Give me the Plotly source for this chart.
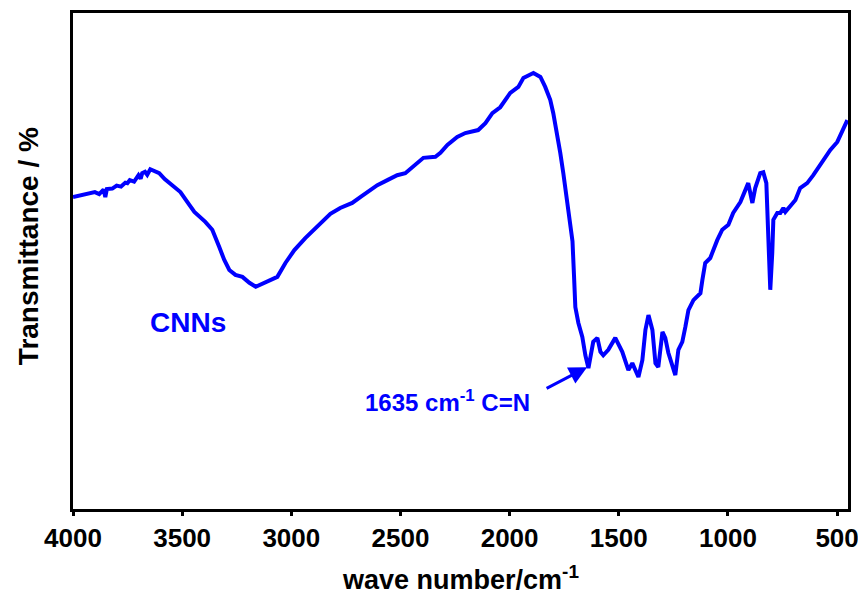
import plotly.graph_objects as go

wavenumber = [4000, 3950, 3920, 3900, 3880, 3860, 3852, 3845, 3820, 3800, 3780, 3760, 3751, 3740,
              3720, 3700, 3690, 3683, 3670, 3660, 3646, 3630, 3605, 3580, 3559, 3508, 3467, 3444,
              3394, 3362, 3330, 3307, 3284, 3256, 3224, 3192, 3163, 3122, 3087, 3064, 3027, 2986,
              2936, 2858, 2821, 2776, 2721, 2684, 2652, 2606, 2560, 2515, 2478, 2441, 2395, 2340,
              2317, 2285, 2240, 2203, 2144, 2111, 2079, 2043, 1997, 1960, 1937, 1891, 1859, 1837,
              1814, 1800, 1782, 1768, 1754, 1745, 1731, 1720, 1712, 1705, 1699, 1685, 1667, 1653,
              1639, 1617, 1598, 1584, 1571, 1548, 1516, 1484, 1470, 1456, 1438, 1424, 1410, 1392,
              1378, 1364, 1346, 1332, 1319, 1300, 1287, 1273, 1255, 1241, 1227, 1209, 1195, 1181,
              1158, 1126, 1117, 1104, 1081, 1067, 1049, 1026, 998, 976, 943, 907, 888, 875, 852,
              838, 824, 815, 806, 797, 792, 774, 760, 746, 737, 714, 691, 669, 637, 609, 577, 531,
              499, 453]
transmittance = [62.9, 63.3, 63.6, 63.9, 63.5, 64.4, 62.9, 64.5, 64.6, 65.2, 65.0, 65.8, 65.7, 66.3,
                 66.0, 67.3, 66.6, 67.7, 68.0, 67.4, 68.5, 68.2, 67.7, 66.5, 65.7, 63.9, 61.3, 59.9,
                 57.9, 56.3, 52.8, 50.2, 48.2, 47.2, 46.8, 45.6, 44.8, 45.6, 46.2, 46.8, 49.6, 52.2,
                 54.6, 57.9, 59.5, 60.7, 61.7, 62.9, 63.9, 65.3, 66.3, 67.3, 67.7, 69.2, 70.8, 71.0,
                 71.8, 73.4, 75.0, 75.8, 76.4, 77.8, 79.8, 81.0, 83.9, 85.1, 86.9, 87.9, 87.1, 85.1,
                 82.5, 79.8, 75.8, 71.8, 67.7, 64.9, 60.3, 57.5, 54.0, 47.0, 40.7, 37.5, 34.7, 31.0,
                 28.4, 33.7, 34.5, 31.7, 31.0, 32.1, 34.5, 31.7, 29.6, 28.0, 29.4, 28.0, 26.6, 30.0,
                 36.1, 39.1, 36.1, 29.4, 28.6, 35.7, 34.5, 31.5, 28.6, 27.0, 32.1, 33.7, 36.7, 40.1,
                 42.1, 43.5, 46.2, 49.6, 50.6, 52.2, 54.2, 56.3, 57.3, 59.7, 61.9, 65.7, 61.7, 64.7, 67.7,
                 67.9, 65.7, 54.8, 44.2, 51.6, 58.3, 59.7, 59.7, 60.7, 59.9, 61.1, 62.3, 64.7, 65.7, 67.3, 69.4, 72.4,
                 74.0, 78.4]

x_ticks = [4000, 3500, 3000, 2500, 2000, 1500, 1000, 500]
x_tick_labels = ["4000", "3500", "3000", "2500", "2000", "1500", "1000", "500"]

FONT = "Liberation Sans, Arial, sans-serif"
BLUE = "#0000FF"

fig = go.Figure()
fig.add_trace(go.Scatter(x=wavenumber, y=transmittance, mode="lines",
                         line=dict(color=BLUE, width=4), showlegend=False,
                         hoverinfo="x+y"))

fig.update_layout(
    width=858, height=596,
    margin=dict(l=65, r=18, t=5, b=95, autoexpand=False),
    paper_bgcolor="white", plot_bgcolor="white",
    font=dict(family=FONT, color="black"),
    xaxis=dict(range=[4000, 450], tickvals=x_ticks, ticktext=x_tick_labels,
               showline=True, mirror=True, linecolor="black", linewidth=3,
               ticks="outside", ticklen=4, tickwidth=3, tickcolor="black",
               showgrid=False, zeroline=False, automargin=False,
               tickfont=dict(family=FONT, size=26, color="black", weight="bold")),
    yaxis=dict(range=[0, 100], showline=True, mirror=True, linecolor="black", linewidth=3,
               showticklabels=False, ticks="", showgrid=False, zeroline=False,
               automargin=False),
    annotations=[
        dict(text="Transmittance / %", xref="paper", yref="paper",
             x=-0.058, y=0.53, textangle=-90, showarrow=False,
             font=dict(family=FONT, size=28, color="black", weight="bold"),
             xanchor="center", yanchor="middle"),
        dict(text="wave number/cm<sup>-1</sup>", xref="paper", yref="paper",
             x=0.5, y=-0.14, showarrow=False,
             font=dict(family=FONT, size=27, color="black", weight="bold"),
             xanchor="center", yanchor="middle"),
        dict(text="CNNs", xref="x", yref="y", x=3471, y=37.7, showarrow=False,
             font=dict(family=FONT, size=28, color=BLUE, weight="bold"),
             xanchor="center", yanchor="middle"),
        dict(text="1635 cm<sup>-1</sup> C=N", xref="x", yref="y", x=2285, y=21.8,
             showarrow=False,
             font=dict(family=FONT, size=24, color=BLUE, weight="bold"),
             xanchor="center", yanchor="middle"),
        dict(text="", xref="x", yref="y", x=1645, y=28.6, ax=-42, ay=22,
             showarrow=True, arrowhead=2, arrowsize=1.2, arrowwidth=3,
             arrowcolor=BLUE, standoff=0),
    ],
)

fig.write_html("out.html")
